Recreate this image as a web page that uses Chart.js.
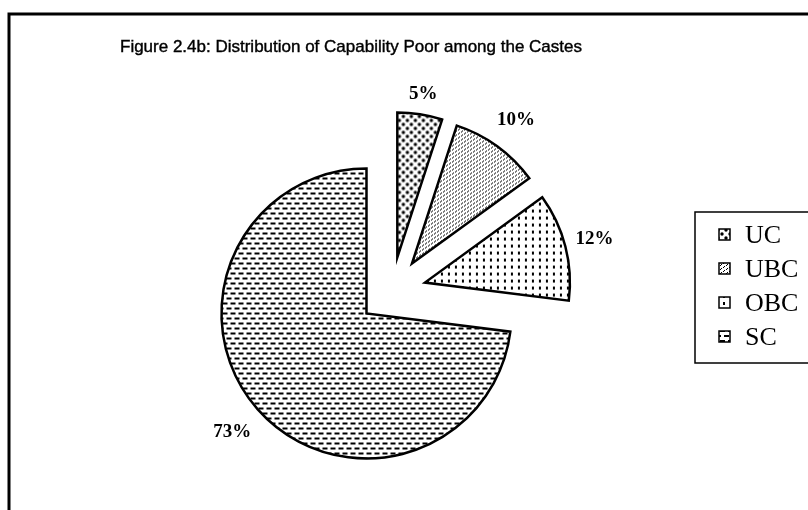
<!DOCTYPE html>
<html>
<head>
<meta charset="utf-8">
<title>Capability Poor among the Castes</title>
<script src="https://cdn.jsdelivr.net/npm/chart.js@4.4.1/dist/chart.umd.min.js"></script>
<style>
  html, body { margin: 0; padding: 0; background: #fff; }
  .chart-container { width: 808px; height: 510px; }
</style>
</head>
<body>
<div class="chart-container">
  <canvas id="casteChart" width="808" height="510"></canvas>
</div>
<script>
const chartTitle = 'Figure 2.4b: Distribution of Capability Poor among the Castes';
const castes = ['UC', 'UBC', 'OBC', 'SC'];
const poorShare = [5, 10, 12, 73];
const shareLabels = ['5%', '10%', '12%', '73%'];

const canvas = document.getElementById('casteChart');
const ctx = canvas.getContext('2d');

// small tiles that mimic the old black & white print fills
function makePattern(w, h, draw) {
  const tile = document.createElement('canvas');
  tile.width = w;
  tile.height = h;
  const g = tile.getContext('2d');
  g.fillStyle = '#fff';
  g.fillRect(0, 0, w, h);
  g.fillStyle = '#000';
  draw(g);
  return ctx.createPattern(tile, 'repeat');
}

const fills = [
  // UC - big dots
  makePattern(8, 8, g => {
    g.beginPath(); g.arc(2, 2, 1.7, 0, Math.PI * 2); g.fill();
    g.beginPath(); g.arc(6, 6, 1.7, 0, Math.PI * 2); g.fill();
  }),
  // UBC - fine diagonal ticks
  makePattern(6, 4, g => {
    g.fillRect(1, 0, 1, 1); g.fillRect(0, 1, 1, 1);
    g.fillRect(4, 2, 1, 1); g.fillRect(3, 3, 1, 1);
  }),
  // OBC - short vertical dashes
  makePattern(7, 7, g => {
    g.fillRect(2, 1, 2, 3);
  }),
  // SC - staggered horizontal dashes
  makePattern(16, 10, g => {
    g.fillRect(0, 0, 5, 2); g.fillRect(8, 0, 5, 2);
    g.fillRect(4, 5, 5, 2); g.fillRect(12, 5, 4, 2); g.fillRect(0, 5, 1, 2);
  })
];

// pull every slice out from the centre, then let the arc draw itself
const explode = {
  id: 'explode',
  beforeDatasetDraw(chart, args, opts) {
    const c = chart.ctx;
    args.meta.data.forEach(arc => {
      const mid = (arc.startAngle + arc.endAngle) / 2;
      c.save();
      c.translate(Math.cos(mid) * opts.distance, Math.sin(mid) * opts.distance);
      arc.draw(c, chart.chartArea);
      c.restore();
    });
    return false;
  }
};

const sliceLabels = {
  id: 'sliceLabels',
  afterDatasetsDraw(chart, args, opts) {
    const c = chart.ctx;
    const pull = chart.options.plugins.explode.distance;
    c.save();
    c.font = opts.font;
    c.fillStyle = '#000';
    c.textAlign = 'center';
    c.textBaseline = 'middle';
    chart.getDatasetMeta(0).data.forEach((arc, i) => {
      const mid = (arc.startAngle + arc.endAngle) / 2;
      const r = pull + arc.outerRadius + opts.gap[i];
      c.fillText(shareLabels[i], arc.x + Math.cos(mid) * r, arc.y + Math.sin(mid) * r);
    });
    c.restore();
  }
};

// outer frame, title and the boxed key on the right
const decor = {
  id: 'decor',
  afterDraw(chart) {
    const c = chart.ctx;
    c.save();
    c.strokeStyle = '#000';
    c.lineWidth = 3;
    c.beginPath();
    c.moveTo(9, 512);
    c.lineTo(9, 14);
    c.lineTo(810, 14);
    c.stroke();

    // scanned title looks a bit heavier than plain Arial
    c.fillStyle = '#000';
    c.font = '17px "Liberation Sans", Arial, sans-serif';
    c.textBaseline = 'middle';
    c.textAlign = 'left';
    c.lineWidth = 0.4;
    c.fillText(chartTitle, 120, 47, 462);
    c.strokeText(chartTitle, 120, 47, 462);

    c.lineWidth = 1.5;
    c.strokeRect(695, 212, 140, 151);
    const ds = chart.data.datasets[0];
    c.font = '26px "Liberation Serif", "Times New Roman", serif';
    chart.data.labels.forEach((lab, i) => {
      const y = 235 + i * 34;
      c.fillStyle = ds.backgroundColor[i];
      c.fillRect(719, y - 6, 11, 11);
      c.strokeRect(719, y - 6, 11, 11);
      c.fillStyle = '#000';
      c.fillText(lab, 745, y + 1);
    });
    c.restore();
  }
};

new Chart(ctx, {
  type: 'pie',
  data: {
    labels: castes,
    datasets: [{
      data: poorShare,
      backgroundColor: fills,
      borderColor: '#000',
      borderWidth: 2.5,
      borderJoinStyle: 'miter',
      radius: 145
    }]
  },
  options: {
    responsive: false,
    animation: false,
    layout: { padding: { left: 192, right: 216, top: 91, bottom: 19 } },
    plugins: {
      legend: { display: false },
      title: { display: false },
      tooltip: { enabled: false },
      explode: { distance: 34 },
      sliceLabels: {
        font: 'bold 19px "Liberation Serif", "Times New Roman", serif',
        gap: [20, 32, 30, 34]
      }
    }
  },
  plugins: [explode, sliceLabels, decor]
});
</script>
</body>
</html>
